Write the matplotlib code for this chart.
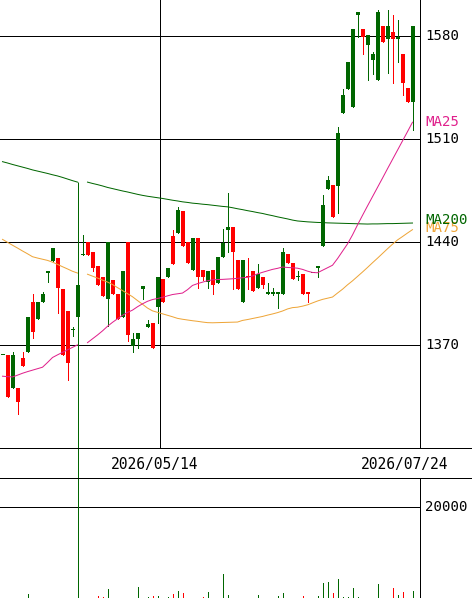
import matplotlib
matplotlib.use('Agg')
import matplotlib.pyplot as plt
import matplotlib.transforms as mtransforms
from matplotlib.lines import Line2D
import numpy as np

# daily candles, oldest first
opens = [1363, 1363, 1341, 1341, 1361, 1365, 1399, 1388, 1399, 1419,
         1427, 1429, 1408, 1393, 1380, 1389, 1431, 1440, 1433, 1424,
         1416, 1401, 1414, 1405, 1389, 1440, 1369, 1374, 1408, 1382,
         1385, 1396, 1415, 1416, 1444, 1446, 1461, 1440, 1421, 1443,
         1421, 1413, 1421, 1412, 1430, 1448, 1450, 1428, 1399, 1417,
         1420, 1409, 1416, 1405, 1405, 1405, 1405, 1432, 1426, 1416,
         1418, 1406, 1419, 1422, 1437, 1476, 1479, 1478, 1528, 1544,
         1532, 1594, 1585, 1574, 1564, 1550, 1587, 1578, 1583, 1578,
         1568, 1545, 1535]
highs = [1363, 1363, 1365, 1341, 1365, 1389, 1405, 1399, 1406, 1420,
         1436, 1429, 1408, 1393, 1382, 1411, 1445, 1440, 1433, 1424,
         1416, 1440, 1414, 1405, 1420, 1440, 1378, 1378, 1410, 1387,
         1385, 1416, 1415, 1422, 1448, 1464, 1461, 1440, 1443, 1443,
         1421, 1420, 1421, 1430, 1449, 1473, 1450, 1428, 1428, 1429,
         1420, 1425, 1416, 1412, 1409, 1406, 1436, 1432, 1426, 1420,
         1418, 1406, 1419, 1424, 1472, 1485, 1479, 1518, 1544, 1562,
         1585, 1596, 1585, 1581, 1569, 1598, 1587, 1598, 1594, 1591,
         1568, 1545, 1587]
lows = [1363, 1335, 1341, 1323, 1356, 1365, 1375, 1388, 1399, 1413,
        1427, 1392, 1363, 1346, 1376, 1389, 1431, 1431, 1420, 1411,
        1403, 1383, 1405, 1388, 1389, 1373, 1365, 1368, 1401, 1382,
        1368, 1385, 1399, 1416, 1425, 1446, 1437, 1426, 1421, 1409,
        1414, 1409, 1405, 1412, 1430, 1433, 1408, 1408, 1399, 1408,
        1407, 1409, 1409, 1405, 1404, 1395, 1405, 1426, 1415, 1414,
        1405, 1399, 1419, 1416, 1437, 1476, 1457, 1460, 1528, 1544,
        1532, 1579, 1568, 1550, 1554, 1550, 1576, 1555, 1548, 1562,
        1540, 1535, 1516]
closes = [1363, 1335, 1363, 1331, 1356, 1389, 1379, 1399, 1405, 1420,
          1436, 1409, 1363, 1358, 1381, 1411, 1432, 1431, 1422, 1411,
          1403, 1440, 1405, 1388, 1420, 1377, 1374, 1378, 1410, 1384,
          1368, 1416, 1399, 1422, 1425, 1462, 1437, 1426, 1443, 1416,
          1416, 1420, 1411, 1430, 1439, 1450, 1433, 1408, 1428, 1416,
          1407, 1418, 1411, 1406, 1406, 1406, 1433, 1426, 1415, 1417,
          1405, 1405, 1419, 1424, 1465, 1482, 1457, 1514, 1540, 1562,
          1585, 1596, 1579, 1581, 1568, 1596, 1576, 1587, 1578, 1579,
          1548, 1535, 1587]
volumes = [4200, 3600, 3100, 4000, 3300, 5900, 4500, 3000, 2800, 2500,
           3400, 4100, 4800, 4400, 2600, 60000, 3800, 3500, 4300, 5500,
           5400, 6700, 3900, 4200, 4600, 4900, 3700, 7000, 3200, 5400,
           5500, 5500, 3800, 5400, 5900, 6400, 6000, 4100, 4700, 4500,
           5400, 6200, 3600, 4800, 9100, 5700, 4900, 4300, 5000, 3500,
           3300, 5700, 2900, 2700, 2400, 5500, 6000, 3800, 4400, 2600,
           5500, 2800, 3000, 5500, 7700, 7800, 6000, 8300, 5400, 5400,
           6900, 5400, 4600, 4800, 4200, 7500, 4900, 5000, 6900, 5700,
           6200, 4700, 6400]

nan = float('nan')
ma25 = [1348.8, 1348.5, 1348.3, 1349.5, 1350.8, 1351.9, 1352.9, 1353.9, 1354.9, 1358.1,
        1361.5, 1363.3, 1365.0, 1366.7, 1368.4, 1370.1, nan, 1371.6, 1374.2, 1376.8,
        1379.6, 1382.7, 1385.4, 1387.8, 1390.2, 1392.1, 1393.7, 1396.0, 1398.0, 1399.7,
        1400.9, 1401.6, 1402.4, 1403.4, 1404.3, 1404.8, 1405.3, 1407.6, 1410.5, 1411.7,
        1412.7, 1413.7, 1414.3, 1414.5, 1414.6, 1414.8, 1415.0, 1415.3, 1415.7, 1416.0,
        1416.9, 1418.3, 1419.4, 1420.4, 1421.4, 1422.1, 1423.0, 1422.7, 1422.5, 1422.2,
        1421.4, 1420.2, 1419.3, 1419.1, 1420.8, 1422.5, 1424.2, 1428.7, 1433.7, 1438.7,
        1444.8, 1451.6, 1458.1, 1464.5, 1470.8, 1477.1, 1483.4, 1489.8, 1496.1, 1502.4,
        1508.7, 1515.0, 1521.4]
ma75 = [1441.8, 1439.8, 1437.8, 1435.9, 1433.9, 1432.0, 1430.0, 1429.1, 1428.3, 1427.5,
        1426.3, 1424.8, 1423.2, 1421.7, 1420.1, 1418.9, nan, 1418.1, 1416.8, 1415.5,
        1414.1, 1412.8, 1411.1, 1409.0, 1407.0, 1404.9, 1402.8, 1400.2, 1397.7, 1395.1,
        1393.2, 1392.2, 1391.2, 1390.2, 1389.2, 1388.1, 1387.5, 1387.0, 1386.5, 1386.1,
        1385.6, 1385.2, 1385.1, 1385.2, 1385.3, 1385.4, 1385.5, 1385.6, 1386.7, 1387.3,
        1388.0, 1388.7, 1389.4, 1390.3, 1391.1, 1392.0, 1393.1, 1394.5, 1395.4, 1395.7,
        1396.4, 1397.3, 1398.6, 1399.9, 1401.0, 1401.8, 1402.6, 1405.3, 1407.9, 1410.9,
        1413.6, 1416.6, 1419.6, 1422.7, 1425.9, 1429.0, 1432.2, 1435.4, 1438.5, 1441.4,
        1443.7, 1446.1, 1448.4]
ma200 = [1494.6, 1493.7, 1492.7, 1491.8, 1490.9, 1490.0, 1489.0, 1488.2, 1487.4, 1486.6,
         1485.7, 1484.9, 1483.9, 1482.8, 1481.7, 1480.7, nan, 1480.7, 1479.8, 1479.0,
         1478.1, 1477.1, 1476.3, 1475.5, 1474.7, 1474.0, 1473.2, 1472.4, 1471.7, 1471.1,
         1470.6, 1470.1, 1469.6, 1469.0, 1468.4, 1467.9, 1467.3, 1466.9, 1466.4, 1466.1,
         1465.7, 1465.4, 1465.0, 1464.6, 1464.2, 1463.9, 1463.3, 1462.6, 1462.0, 1461.3,
         1460.7, 1460.0, 1459.4, 1458.6, 1457.9, 1457.1, 1456.4, 1455.7, 1454.9, 1454.3,
         1454.0, 1453.7, 1453.5, 1453.3, 1453.2, 1453.0, 1452.9, 1452.8, 1452.7, 1452.6,
         1452.5, 1452.4, 1452.3, 1452.2, 1452.3, 1452.3, 1452.4, 1452.5, 1452.5, 1452.6,
         1452.7, 1452.8, 1452.9]
glitch_day = 15  # the MA lines drop to zero on this day

price_ticks = [1580, 1510, 1440, 1370]
vol_ticks = [20000]
date_labels = ['2026/05/14', '2026/07/24']
date_grid = [31.5, 83.4]

GREEN = '#006600'
RED = '#ff0000'
C25 = '#e0208c'
C75 = '#eea538'
C200 = '#006600'
LW = 0.72
W, H = 472, 598

plt.rcParams['font.family'] = ['DejaVu Sans Mono']

fig = plt.figure(figsize=(W / 100, H / 100), dpi=100)
ax = fig.add_axes([0, 150 / H, 419.5 / W, 448 / H])
axv = fig.add_axes([0, -32 / H, 419.5 / W, 152 / H])

x = np.arange(len(opens))
o = np.array(opens, float)
c = np.array(closes, float)
up = c >= o
cols = np.where(up, GREEN, RED)

# price panel
ax.set_xlim(-0.5, 83.4)
ax.set_ylim(1300, 1604.47)
for p in price_ticks:
    ax.axhline(p, color='black', lw=LW, zorder=1)
ax.axvline(date_grid[0], color='black', lw=LW, zorder=1)

ax.vlines(x, lows, highs, colors=cols, lw=LW, antialiased=False, zorder=3)
body_h = np.maximum(np.abs(c - o), 0.7)
ax.bar(x, body_h, bottom=np.minimum(o, c), width=0.8, color=cols,
       linewidth=0, antialiased=False, zorder=4)

ax.plot(x, ma200, color=C200, lw=LW, zorder=5)
ax.plot(x, ma75, color=C75, lw=LW, zorder=5)
ax.plot(x, ma25, color=C25, lw=LW, zorder=5)
for ma, col in [(ma25, C25), (ma75, C75), (ma200, C200)]:
    ax.vlines(glitch_day, 0, ma[glitch_day], colors=col, lw=LW, clip_on=False, zorder=6)

for s in ['top', 'left', 'bottom']:
    ax.spines[s].set_visible(False)
ax.spines['right'].set_linewidth(LW)
ax.set_xticks([])
ax.set_yticks([])

tr = mtransforms.blended_transform_factory(fig.transFigure, ax.transData)
for p in price_ticks:
    ax.text(425 / W, p, str(p), transform=tr, fontsize=10.2, va='center', ha='left')
# MA names sit at each line's last value (MA200 and MA75 overlap, as on the site)
for ma, name, col, dy in [(ma25, 'MA25', C25, 0), (ma75, 'MA75', C75, 2),
                          (ma200, 'MA200', C200, 3)]:
    t = mtransforms.offset_copy(tr, fig=fig, x=0, y=dy, units='dots')
    ax.text(425 / W, ma[-1], name, transform=t, fontsize=10.2, va='center', ha='left',
            color=col, clip_on=False)

# date strip
for yy in [448, 478]:
    fig.add_artist(Line2D([0, 1], [1 - yy / H, 1 - yy / H], transform=fig.transFigure,
                          color='black', lw=LW))
fig.text(154.5 / W, 1 - 464 / H, date_labels[0], fontsize=10.5, ha='center', va='center')
fig.text(404.5 / W, 1 - 464 / H, date_labels[1], fontsize=10.5, ha='center', va='center')

# volume panel
axv.set_xlim(-0.5, 83.4)
axv.set_ylim(0, 24816)
axv.axhline(vol_ticks[0], color='black', lw=LW)
axv.vlines(x, 0, volumes, colors=cols, lw=LW, antialiased=False)
for s in ['top', 'left', 'bottom']:
    axv.spines[s].set_visible(False)
axv.spines['right'].set_linewidth(LW)
axv.set_xticks([])
axv.set_yticks([])
trv = mtransforms.blended_transform_factory(fig.transFigure, axv.transData)
axv.text(425 / W, vol_ticks[0], str(vol_ticks[0]), transform=trv, fontsize=10.2,
         va='center', ha='left')

fig.savefig('out.png', dpi=100)
